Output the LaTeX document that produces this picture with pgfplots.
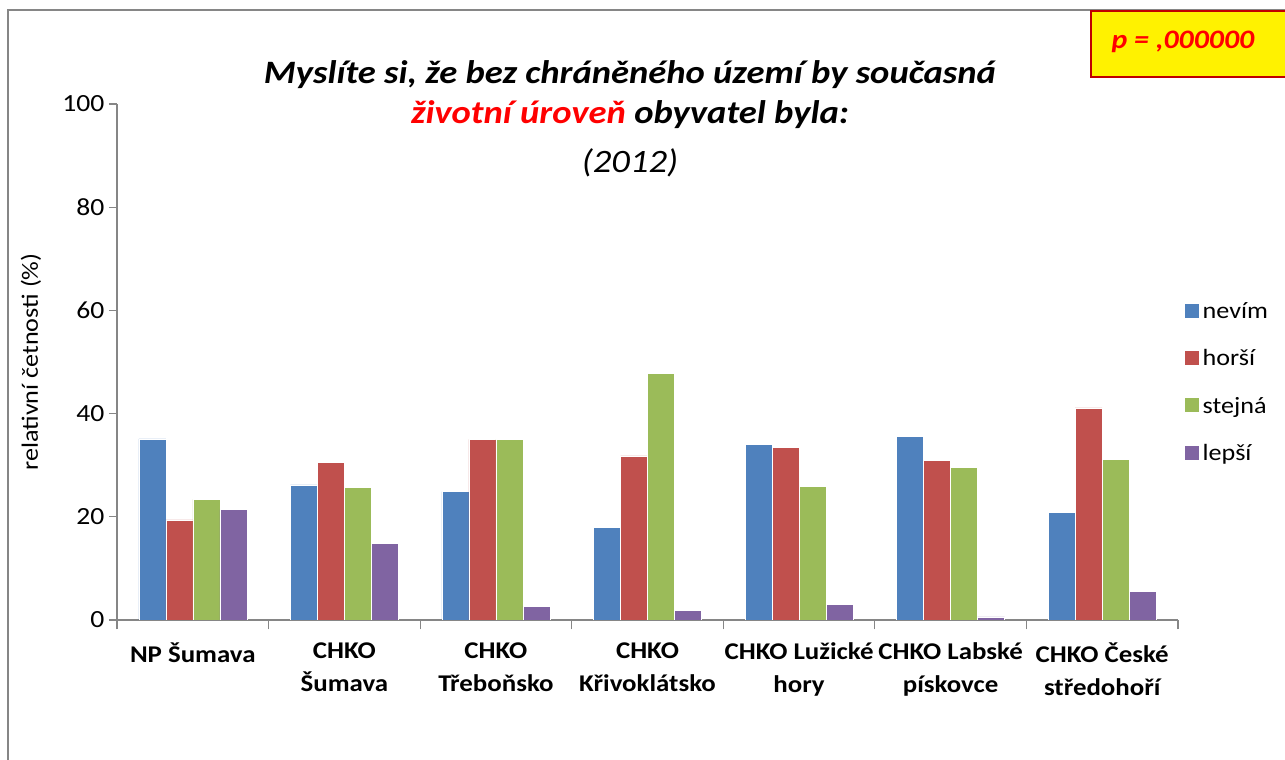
\documentclass[border=0pt]{standalone}
\usepackage{fontspec}
\setmainfont{Carlito}[FakeStretch=1.12]
\usepackage{pgfplots}
\pgfplotsset{compat=1.18}
\definecolor{cA}{HTML}{4F81BD}
\definecolor{cB}{HTML}{C0504D}
\definecolor{cC}{HTML}{9BBB59}
\definecolor{cD}{HTML}{8064A2}
\definecolor{axgray}{HTML}{868686}
\definecolor{pred}{HTML}{FF0000}
\definecolor{pborder}{HTML}{C00000}
\begin{document}
\begin{tikzpicture}[x=0.75pt,y=0.75pt]
\useasboundingbox (0,0) rectangle (1285,760);
\draw[axgray, line width=1.5pt] (8,-10) -- (8,750) -- (1300,750);
\begin{axis}[
  at={(87.75pt,105pt)}, anchor=south west,
  scale only axis, width=795.75pt, height=387pt,
  ybar=0pt, bar width=20.25pt,
  xmin=-0.5, xmax=6.5, ymin=0, ymax=100,
  axis x line*=bottom, axis y line*=left,
  axis line style={axgray, line width=0.9pt},
  xtick={0,...,6},
  xticklabels={{NP Šumava},{CHKO\\Šumava},{CHKO\\Třeboňsko},{CHKO\\Křivoklátsko},{CHKO Lužické\\hory},{CHKO Labské\\pískovce},{CHKO České\\středohoří}},
  x tick label style={font=\fontsize{18}{24.5}\selectfont\bfseries, align=center, yshift=-7.5pt},
  major x tick style={draw=none},
  minor xtick={-0.5,0.5,...,6.5},
  minor x tick style={axgray, line width=0.9pt},
  ytick={0,20,...,100},
  y tick style={axgray, line width=0.9pt},
  tick align=outside, major tick length=6pt, minor tick length=7pt,
  y tick label style={font=\fontsize{18.5}{20}\selectfont},
  /pgf/number format/assume math mode=true,
  ylabel={relativní četnosti (\%)},
  ylabel style={font=\fontsize{17.5}{20}\selectfont, yshift=9pt},
  legend style={draw=none, at={(1.006,0.46)}, anchor=west, font=\fontsize{17.5}{20}\selectfont,
    legend cell align=left, row sep=18pt, inner sep=0pt,
    /tikz/every odd column/.append style={column sep=1pt}},
  legend image code/.code={\fill[#1,draw=none] (0pt,-4.6pt) rectangle (10.5pt,5.9pt);},
]
\addplot[fill=cA, draw=white, line width=0.4pt] coordinates {(0,35.1) (1,26.2) (2,24.9) (3,17.9) (4,34.1) (5,35.6) (6,20.9)};
\addplot[fill=cB, draw=white, line width=0.4pt] coordinates {(0,19.4) (1,30.6) (2,35.0) (3,31.8) (4,33.4) (5,30.9) (6,41.1)};
\addplot[fill=cC, draw=white, line width=0.4pt] coordinates {(0,23.4) (1,25.7) (2,35.0) (3,47.8) (4,25.9) (5,29.6) (6,31.1)};
\addplot[fill=cD, draw=white, line width=0.4pt] coordinates {(0,21.4) (1,14.8) (2,2.7) (3,1.8) (4,3.0) (5,0.6) (6,5.5)};
\legend{nevím, horší, stejná, lepší}
\end{axis}
\node[font=\fontsize{24.5}{28}\selectfont\bfseries\itshape] at (630,685) {Myslíte si, že bez chráněného území by současná};
\node[font=\fontsize{24.5}{28}\selectfont\bfseries\itshape] at (630,645) {\textcolor{pred}{životní úroveň} obyvatel byla:};
\node[font=\fontsize{24.5}{28}\selectfont\itshape] at (630,597) {(2012)};
\draw[pborder, fill=yellow, line width=1.6pt] (1091,683) rectangle (1300,749);
\node[font=\fontsize{20}{24}\selectfont\bfseries\itshape, text=pred] at (1183,718) {p = ,000000};
\end{tikzpicture}
\end{document}
